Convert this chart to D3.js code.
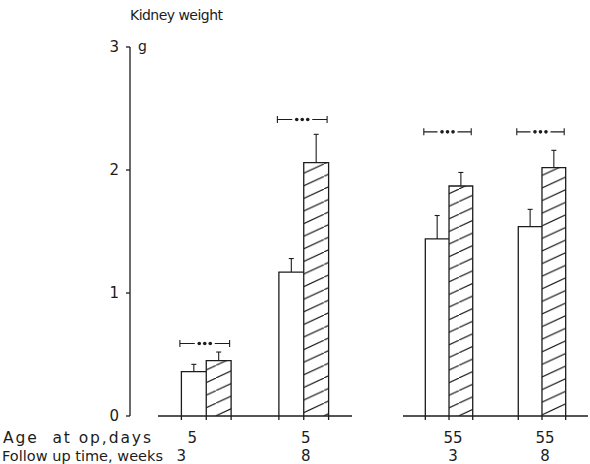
<!DOCTYPE html>
<html>
<head>
<meta charset="utf-8">
<script src="https://cdn.jsdelivr.net/npm/d3@7"></script>
<style>
  html, body { margin: 0; padding: 0; background: #fff; }
  svg { display: block; }
  text { font-family: "DejaVu Sans", "Liberation Sans", sans-serif; fill: #1c1c1c; }
</style>
</head>
<body>
<svg id="chart" width="590" height="464"></svg>
<script>
// Kidney weight (g), mean with upper SEM, for control (open) and operated (hatched) rats
const ageAtOp      = ["5", "5", "55", "55"];     // age at operation, days
const followUp     = ["3", "8", "3", "8"];       // follow-up time, weeks
const controlMean  = [0.36, 1.17, 1.44, 1.54];
const controlSem   = [0.06, 0.11, 0.19, 0.14];
const operatedMean = [0.45, 2.06, 1.87, 2.02];
const operatedSem  = [0.07, 0.23, 0.11, 0.14];
const bracketLevel = [0.59, 2.41, 2.31, 2.31];   // height of the significance bracket, g
const yTicks       = [0, 1, 2, 3];

const svg = d3.select("#chart");
const ink = "#1c1c1c";

const y = d3.scaleLinear().domain([0, 3]).range([416, 47]);

// the two age panels sit on separate baselines
const panelRange = { "5": [158, 352], "55": [403, 588] };
// hand-lettered group labels sit slightly off the bar pair centres
const labelNudge = [[-14, -25], [2, 2], [4, 4], [3, 3]];

const ages = Array.from(new Set(ageAtOp));
const panelScale = {};
ages.forEach(a => {
  panelScale[a] = d3.scaleBand()
    .domain(followUp.filter((f, i) => ageAtOp[i] === a))
    .range(panelRange[a])
    .paddingInner(0.49)
    .paddingOuter(0.24);
});

const groups = ageAtOp.map((a, i) => ({
  i, age: a, follow: followUp[i],
  x0: panelScale[a](followUp[i]),
  w: panelScale[a].bandwidth(),
  ctrl: controlMean[i], ctrlSem: controlSem[i],
  op: operatedMean[i], opSem: operatedSem[i],
  bracket: bracketLevel[i]
}));

const series = d3.scaleBand().domain(["control", "operated"]).range([0, 1]);

// hatch for operated bars
const defs = svg.append("defs");
const hw = 27, hh = 12.6;
const pat = defs.append("pattern")
  .attr("id", "hatch").attr("patternUnits", "userSpaceOnUse")
  .attr("width", hw).attr("height", hh);
pat.append("line")
  .attr("x1", -hw * 0.2).attr("y1", hh * 1.2)
  .attr("x2", hw * 1.2).attr("y2", -hh * 0.2)
  .attr("stroke", ink).attr("stroke-width", 1.1);

// baselines
ages.forEach(a => {
  svg.append("line")
    .attr("x1", panelRange[a][0]).attr("x2", panelRange[a][1])
    .attr("y1", y(0)).attr("y2", y(0))
    .attr("stroke", ink).attr("stroke-width", 1.3);
});

// y axis
const axis = svg.append("g");
axis.append("line")
  .attr("x1", 130).attr("x2", 130).attr("y1", y(3)).attr("y2", y(0))
  .attr("stroke", ink).attr("stroke-width", 1.3);
axis.selectAll(".tick").data(yTicks).join("line")
  .attr("x1", 126).attr("x2", 130)
  .attr("y1", d => y(d)).attr("y2", d => y(d))
  .attr("stroke", ink).attr("stroke-width", 1.3);
axis.selectAll(".lab").data(yTicks).join("text")
  .attr("x", 119).attr("y", d => y(d) + 5)
  .attr("text-anchor", "end").attr("font-size", 15)
  .text(d => d);

svg.append("text").attr("x", 138).attr("y", 51).attr("font-size", 14).text("g");
svg.append("text").attr("x", 130).attr("y", 20).attr("font-size", 14)
  .attr("textLength", 93).text("Kidney weight");

// bars
const g = svg.selectAll(".grp").data(groups).join("g");

g.each(function(d) {
  const sel = d3.select(this);
  const sx = series.copy().range([d.x0, d.x0 + d.w]);
  const bw = sx.bandwidth();
  const xc = sx("control"), xo = sx("operated");

  // operated (hatched)
  sel.append("rect")
    .attr("x", xo).attr("y", y(d.op)).attr("width", bw).attr("height", y(0) - y(d.op))
    .attr("fill", "url(#hatch)").attr("stroke", "none");
  sel.append("path")
    .attr("d", `M${xo},${y(0) + 4}V${y(d.op)}H${xo + bw}V${y(0) + 4}`)
    .attr("fill", "none").attr("stroke", ink).attr("stroke-width", 1.3);

  // control (open)
  sel.append("path")
    .attr("d", `M${xc},${y(0) + 4}V${y(d.ctrl)}H${xc + bw}`)
    .attr("fill", "none").attr("stroke", ink).attr("stroke-width", 1.3);

  // SEM whiskers
  [[xc + bw / 2, d.ctrl, d.ctrlSem], [xo + bw / 2, d.op, d.opSem]].forEach(([cx, m, s]) => {
    sel.append("line")
      .attr("x1", cx).attr("x2", cx).attr("y1", y(m)).attr("y2", y(m + s))
      .attr("stroke", ink).attr("stroke-width", 1.1);
    sel.append("line")
      .attr("x1", cx - 2.5).attr("x2", cx + 2.5).attr("y1", y(m + s)).attr("y2", y(m + s))
      .attr("stroke", ink).attr("stroke-width", 1.1);
  });

  // significance bracket  |— • • • —|
  const bx0 = d.x0 - 1.5, bx1 = d.x0 + d.w - 1.5, by = y(d.bracket), mid = (bx0 + bx1) / 2;
  sel.append("path")
    .attr("d", `M${bx0},${by - 3.5}V${by + 3.5}M${bx0},${by}H${mid - 10}` +
               `M${mid + 10},${by}H${bx1}M${bx1},${by - 3.5}V${by + 3.5}`)
    .attr("fill", "none").attr("stroke", ink).attr("stroke-width", 1.1);
  sel.selectAll("circle").data([-5.5, 0, 5.5]).join("circle")
    .attr("cx", o => mid + o).attr("cy", by).attr("r", 1.8).attr("fill", ink);

  // group labels
  const cx = d.x0 + d.w / 2;
  sel.append("text").attr("x", cx + labelNudge[d.i][0]).attr("y", 443)
    .attr("text-anchor", "middle").attr("font-size", 15).text(d.age);
  sel.append("text").attr("x", cx + labelNudge[d.i][1]).attr("y", 461)
    .attr("text-anchor", "middle").attr("font-size", 15).text(d.follow);
});

svg.append("text").attr("x", 3).attr("y", 443).attr("font-size", 15.5)
  .style("white-space", "pre").attr("textLength", 148)
  .text("Age  at op,days");
svg.append("text").attr("x", 2).attr("y", 461).attr("font-size", 14.5)
  .attr("textLength", 161).text("Follow up time, weeks");
</script>
</body>
</html>
